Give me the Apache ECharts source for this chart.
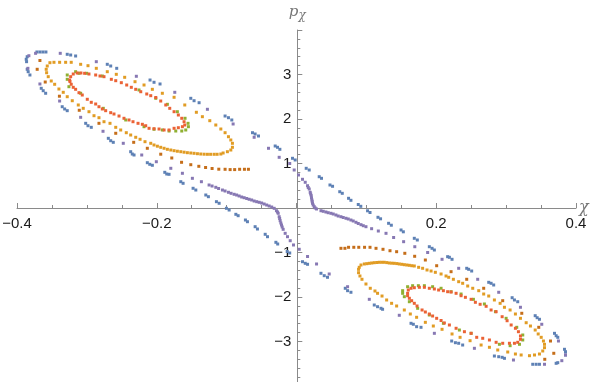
<!DOCTYPE html>
<html>
<head>
<meta charset="utf-8">
<script src="https://cdn.jsdelivr.net/npm/echarts@6/dist/echarts.min.js"></script>
<style>
  html, body { margin: 0; padding: 0; background: #fff; }
  #main { width: 600px; height: 382px; }
</style>
</head>
<body>
<div id="main"></div>
<script>
// Poincaré section points as [chi, p_chi]
var xTicks = [-0.4, -0.2, 0.2, 0.4];
var yTicks = [-3, -2, -1, 1, 2, 3];

var bluePts = [
  [-0.3715,3.506],[-0.3672,3.506],[-0.3629,3.506],[-0.3586,3.506],
  [-0.3281,3.454],[-0.3232,3.438],[-0.3161,3.416],
  [-0.2708,3.229],[-0.2659,3.191],[-0.2573,3.139],
  [-0.2096,2.876],[-0.2039,2.825],[-0.1953,2.787],
  [-0.1513,2.465],[-0.1466,2.411],[-0.1394,2.366],
  [-0.1022,2.067],[-0.0974,2.029],[-0.0926,1.978],
  [-0.0630,1.692],[-0.0592,1.663],[-0.0544,1.618],
  [-0.0305,1.393],[-0.0272,1.364],[-0.0238,1.319],
  [-0.0057,1.117],[-0.0019,1.079],
  [0.0139,0.892],[0.0182,0.854],
  [0.0325,0.703],[0.0358,0.667],
  [0.0479,0.517],[0.0516,0.488],
  [0.0619,0.366],[0.0655,0.330],
  [0.0745,0.218],[0.0779,0.173],
  [0.0884,0.079],[0.0920,0.038],
  [0.1017,-0.063],[0.1052,-0.101],
  [0.1166,-0.209],[0.1203,-0.243],
  [0.1318,-0.344],[0.1357,-0.387],
  [0.1496,-0.494],[0.1529,-0.535],
  [0.1686,-0.681],[0.1729,-0.719],
  [0.1901,-0.870],[0.1940,-0.906],[0.1973,-0.944],
  [0.2163,-1.094],[0.2188,-1.108],[0.2226,-1.153],
  [0.2436,-1.355],[0.2464,-1.378],[0.2507,-1.416],
  [0.2751,-1.670],[0.2785,-1.692],[0.2822,-1.730],
  [0.3086,-2.016],[0.3119,-2.067],[0.3166,-2.106],
  [0.3416,-2.420],[0.3444,-2.465],[0.3477,-2.501],
  [0.3692,-2.816],[0.3716,-2.870],[0.3739,-2.906],
  [0.3835,-3.175],[0.3850,-3.229],[0.3850,-3.303],
  [0.3739,-3.476],[0.3716,-3.490],
  [0.3477,-3.512],[0.3430,-3.512],[0.3381,-3.512],
  [0.2976,-3.378],[0.2943,-3.355],[0.2894,-3.342],[0.2832,-3.326],
  [0.2378,-3.079],[0.2321,-3.040],[0.2274,-3.027],[0.2221,-2.989],
  [0.1782,-2.681],[0.1719,-2.667],[0.1672,-2.613],[0.1639,-2.591],
  [0.1232,-2.276],[0.1209,-2.254],[0.1160,-2.218],[0.1113,-2.180],
  [0.0779,-1.894],[0.0731,-1.858],[0.0698,-1.804],
  [0.0444,-1.557],[0.0397,-1.521],[0.0350,-1.467],
  [0.0158,-1.265],[0.0125,-1.243],[0.0086,-1.207],
  [-0.0133,-0.978],[-0.0097,-1.011],
  [-0.0295,-0.771],[-0.0269,-0.809],
  [-0.0448,-0.591],[-0.0415,-0.645],
  [-0.0592,-0.420],[-0.0559,-0.472],
  [-0.0731,-0.270],[-0.0702,-0.308],
  [-0.0868,-0.142],[-0.0835,-0.173],
  [-0.1003,-0.007],[-0.0964,-0.045],
  [-0.1146,0.142],[-0.1107,0.106],
  [-0.1298,0.292],[-0.1261,0.254],
  [-0.1480,0.443],[-0.1441,0.404],
  [-0.1656,0.591],[-0.1623,0.555],
  [-0.1885,0.802],[-0.1857,0.764],[-0.1824,0.757],
  [-0.2135,1.018],[-0.2100,0.982],[-0.2063,0.960],
  [-0.2373,1.265],[-0.2350,1.213],[-0.2325,1.191],
  [-0.2693,1.566],[-0.2659,1.512],[-0.2622,1.476],
  [-0.3017,1.903],[-0.2984,1.849],[-0.2937,1.813],
  [-0.3353,2.276],[-0.3318,2.225],[-0.3281,2.187],
  [-0.3653,2.690],[-0.3625,2.636],[-0.3590,2.578],
  [-0.3854,3.117],[-0.3840,3.063],[-0.3815,2.989],
  [-0.3868,3.342],[-0.3863,3.288],[-0.3854,3.400]
];

var orangePts = [
  [-0.3529,3.265],[-0.3471,3.274],[-0.3390,3.274],[-0.3304,3.274],[-0.3224,3.274],
  [-0.3089,3.229],[-0.2984,3.198],[-0.2865,3.139],[-0.2708,3.063],[-0.2579,3.004],
  [-0.2459,2.937],[-0.2311,2.838],[-0.2182,2.764],[-0.2063,2.667],[-0.1920,2.578],
  [-0.1752,2.488],[-0.1599,2.315],[-0.1433,2.151],[-0.1347,2.052],[-0.1241,1.962],
  [-0.1155,1.865],[-0.1083,1.775],[-0.1022,1.692],[-0.0974,1.602],[-0.0940,1.528],
  [-0.0917,1.454],[-0.0917,1.364],[-0.0940,1.303],[-0.0989,1.265],[-0.1050,1.236],
  [-0.1083,1.213],[-0.1136,1.207],[-0.1179,1.207],[-0.1229,1.207],[-0.1275,1.207],
  [-0.1322,1.209],[-0.1370,1.213],[-0.1418,1.220],[-0.1466,1.229],[-0.1513,1.236],
  [-0.1562,1.243],[-0.1609,1.254],[-0.1656,1.265],[-0.1705,1.276],[-0.1752,1.288],
  [-0.1799,1.303],[-0.1848,1.319],[-0.1895,1.342],[-0.1943,1.364],[-0.1991,1.389],
  [-0.2039,1.416],[-0.2086,1.454],[-0.2168,1.490],[-0.2239,1.544],[-0.2301,1.589],
  [-0.2373,1.640],[-0.2436,1.692],[-0.2516,1.753],[-0.2587,1.813],[-0.2669,1.903],
  [-0.2755,1.939],[-0.2827,2.029],[-0.2898,2.074],[-0.2970,2.164],[-0.3052,2.240],
  [-0.3123,2.315],[-0.3209,2.411],[-0.3281,2.501],[-0.3338,2.600],[-0.3400,2.674],
  [-0.3461,2.780],[-0.3510,2.854],[-0.3553,2.951],[-0.3576,3.040],[-0.3582,3.117],
  [-0.3567,3.191],
  [0.0898,-1.333],[0.0923,-1.281],[0.0970,-1.258],[0.1006,-1.251],[0.1042,-1.243],
  [0.1077,-1.236],[0.1113,-1.229],[0.1149,-1.225],[0.1185,-1.220],[0.1221,-1.220],
  [0.1256,-1.220],[0.1292,-1.227],[0.1328,-1.236],[0.1364,-1.240],[0.1400,-1.243],
  [0.1436,-1.249],[0.1471,-1.258],[0.1507,-1.265],[0.1543,-1.274],[0.1579,-1.281],
  [0.1615,-1.288],[0.1650,-1.297],[0.1686,-1.303],[0.1748,-1.333],[0.1805,-1.355],
  [0.1868,-1.393],[0.1926,-1.416],[0.1987,-1.445],[0.2069,-1.483],[0.2140,-1.528],
  [0.2178,-1.557],[0.2245,-1.602],[0.2321,-1.656],[0.2378,-1.692],[0.2450,-1.753],
  [0.2522,-1.804],[0.2608,-1.858],[0.2679,-1.933],[0.2751,-1.978],[0.2832,-2.067],
  [0.2914,-2.142],[0.2976,-2.231],[0.3057,-2.292],[0.3133,-2.382],[0.3205,-2.479],
  [0.3287,-2.578],[0.3348,-2.652],[0.3416,-2.742],[0.3459,-2.831],[0.3502,-2.906],
  [0.3534,-2.989],[0.3549,-3.063],[0.3549,-3.139],[0.3524,-3.213],[0.3477,-3.281],
  [0.3406,-3.303],[0.3334,-3.319],[0.3215,-3.303],[0.3133,-3.281],[0.3023,-3.236],
  [0.2880,-3.191],[0.2761,-3.130],[0.2642,-3.079],[0.2484,-2.982],[0.2341,-2.906],
  [0.2226,-2.831],[0.2083,-2.726],[0.1958,-2.652],[0.1844,-2.569],[0.1719,-2.456],
  [0.1629,-2.382],[0.1543,-2.292],[0.1433,-2.202],[0.1361,-2.142],[0.1290,-2.067],
  [0.1224,-1.978],[0.1160,-1.917],[0.1123,-1.865],[0.1056,-1.804],[0.0994,-1.708],
  [0.0937,-1.602],[0.0908,-1.528],[0.0888,-1.454],[0.0888,-1.378]
];

var greenPts = [
  [-0.3281,2.989],[-0.3281,2.892],[-0.3257,2.726],[-0.3161,3.063],[-0.3113,3.027],
  [-0.3003,3.027],[-0.2779,2.966],[-0.2254,2.652],[-0.2014,2.465],[-0.1848,2.330],
  [-0.1705,2.164],[-0.1595,2.016],[-0.1552,1.903],[-0.1547,1.827],[-0.1585,1.753],
  [-0.1642,1.730],[-0.1728,1.730],[-0.1824,1.730],[-0.1920,1.753],[-0.2039,1.769],
  [-0.2182,1.827],[-0.2444,1.978],[-0.2765,2.240],[-0.3089,2.578],
  [0.1519,-1.858],[0.1519,-1.917],[0.1543,-1.993],[0.1590,-1.769],[0.1662,-1.746],
  [0.1744,-1.746],[0.1830,-1.746],[0.1948,-1.769],[0.2069,-1.804],[0.2212,-1.881],
  [0.2355,-1.933],[0.2532,-2.052],[0.2689,-2.157],[0.2847,-2.330],[0.3000,-2.479],
  [0.3152,-2.681],[0.3238,-2.854],[0.3238,-2.966],[0.3191,-3.063],[0.3057,-3.094],
  [0.2904,-3.063],[0.2499,-2.816],[0.2331,-2.742],[0.2102,-2.591],[0.1901,-2.404],
  [0.1734,-2.254],[0.1615,-2.106]
];

var redPts = [
  [-0.3247,2.876],[-0.3232,2.951],[-0.3195,3.011],[-0.3138,3.034],[-0.3085,3.034],
  [-0.3032,3.027],[-0.2970,3.011],[-0.2874,2.989],[-0.2812,2.966],[-0.2755,2.951],
  [-0.2650,2.892],[-0.2587,2.861],[-0.2507,2.816],[-0.2430,2.764],[-0.2364,2.712],
  [-0.2301,2.667],[-0.2229,2.613],[-0.2143,2.562],[-0.2086,2.524],[-0.2014,2.483],
  [-0.1943,2.404],[-0.1871,2.315],[-0.1814,2.240],[-0.1752,2.164],[-0.1691,2.090],
  [-0.1642,2.016],[-0.1609,1.939],[-0.1599,1.865],[-0.1633,1.827],[-0.1691,1.804],
  [-0.1752,1.791],[-0.1824,1.753],[-0.1895,1.753],[-0.1967,1.775],[-0.2039,1.782],
  [-0.2110,1.791],[-0.2158,1.849],[-0.2206,1.881],[-0.2268,1.903],[-0.2340,1.939],
  [-0.2397,1.978],[-0.2469,2.016],[-0.2540,2.067],[-0.2612,2.112],[-0.2659,2.142],
  [-0.2731,2.187],[-0.2779,2.225],[-0.2827,2.276],[-0.2874,2.337],[-0.2937,2.375],
  [-0.2994,2.443],[-0.3066,2.539],[-0.3113,2.591],[-0.3161,2.667],[-0.3195,2.712],
  [-0.3224,2.780],[-0.3242,2.843],
  [0.1590,-1.917],[0.1600,-1.843],[0.1639,-1.804],[0.1686,-1.791],[0.1758,-1.782],
  [0.1830,-1.782],[0.1901,-1.804],[0.1973,-1.820],[0.2034,-1.843],[0.2102,-1.858],
  [0.2163,-1.881],[0.2212,-1.888],[0.2284,-1.917],[0.2355,-1.971],[0.2417,-2.007],
  [0.2499,-2.052],[0.2560,-2.119],[0.2628,-2.164],[0.2714,-2.209],[0.2785,-2.292],
  [0.2857,-2.330],[0.2943,-2.443],[0.3014,-2.533],[0.3072,-2.629],[0.3133,-2.703],
  [0.3176,-2.780],[0.3205,-2.876],[0.3205,-2.951],[0.3166,-3.018],[0.3119,-3.040],
  [0.3047,-3.040],[0.2951,-3.040],[0.2857,-3.018],[0.2761,-2.966],[0.2665,-2.928],
  [0.2579,-2.906],[0.2499,-2.816],[0.2403,-2.780],[0.2284,-2.703],[0.2188,-2.629],
  [0.2116,-2.584],[0.2069,-2.528],[0.2006,-2.479],[0.1948,-2.427],[0.1901,-2.382],
  [0.1844,-2.337],[0.1797,-2.292],[0.1725,-2.202],[0.1686,-2.142],[0.1648,-2.083],
  [0.1615,-2.029],[0.1590,-1.971]
];

var purplePts = [
  [-0.3830,3.422],[-0.3734,3.476],[-0.3381,3.476],[-0.2865,3.288],[-0.2292,2.960],
  [-0.1742,2.600],[-0.1275,2.218],[-0.0907,1.888],[-0.0606,1.589],[-0.0401,1.342],
  [-0.0248,1.139],[-0.0097,1.000],[-0.0033,0.854],[0.0029,0.742],[0.0086,0.645],
  [0.0125,0.578],[0.0158,0.501],[0.0168,0.461],[0.0182,0.427],[0.0196,0.353],
  [0.0203,0.315],[0.0211,0.276],[0.0215,0.225],[0.0221,0.180],[0.0225,0.142],
  [0.0229,0.106],[0.0239,0.067],[0.0254,0.029],[0.0268,0.000],[0.0287,-0.022],
  [0.0350,-0.061],[0.0383,-0.074],[0.0421,-0.090],[0.0454,-0.106],[0.0493,-0.119],
  [0.0526,-0.135],[0.0564,-0.157],[0.0597,-0.180],[0.0636,-0.196],[0.0669,-0.213],
  [0.0708,-0.231],[0.0741,-0.247],[0.0779,-0.270],[0.0812,-0.292],[0.0851,-0.321],
  [0.0884,-0.348],[0.0923,-0.375],[0.0956,-0.398],[0.0994,-0.420],[0.1075,-0.465],
  [0.1171,-0.517],[0.1281,-0.569],[0.1390,-0.663],[0.1533,-0.757],[0.1693,-0.870],
  [0.1877,-1.000],[0.2083,-1.153],[0.2321,-1.355],[0.2593,-1.602],[0.2894,-1.894],
  [0.3205,-2.231],[0.3510,-2.613],[0.3749,-2.989],[0.3850,-3.303],[0.3797,-3.431],
  [0.3549,-3.512],[0.3105,-3.416],[0.2546,-3.153],[0.1973,-2.816],[0.1471,-2.411],
  [0.1042,-2.052],[0.0731,-1.769],[0.0468,-1.483],[0.0287,-1.258],[0.0158,-1.090],
  [0.0039,-0.928],[-0.0043,-0.831],[-0.0090,-0.735],[-0.0129,-0.645],[-0.0162,-0.569],
  [-0.0191,-0.479],[-0.0205,-0.427],[-0.0215,-0.382],[-0.0224,-0.337],[-0.0234,-0.285],
  [-0.0241,-0.236],[-0.0248,-0.196],[-0.0262,-0.119],[-0.0272,-0.090],[-0.0287,-0.061],
  [-0.0319,-0.007],[-0.0355,0.022],[-0.0391,0.045],[-0.0427,0.067],[-0.0463,0.090],
  [-0.0499,0.112],[-0.0534,0.128],[-0.0570,0.142],[-0.0606,0.157],[-0.0642,0.180],
  [-0.0678,0.196],[-0.0713,0.213],[-0.0749,0.231],[-0.0785,0.247],[-0.0821,0.270],
  [-0.0857,0.292],[-0.0893,0.308],[-0.0936,0.330],[-0.0974,0.353],[-0.1022,0.382],
  [-0.1060,0.404],[-0.1115,0.438],[-0.1155,0.465],[-0.1208,0.494],[-0.1251,0.517],
  [-0.1361,0.591],[-0.1490,0.667],[-0.1633,0.780],[-0.1799,0.892],[-0.2006,1.040],
  [-0.2215,1.191],[-0.2479,1.454],[-0.2769,1.724],[-0.3089,2.038],[-0.3390,2.404],
  [-0.3672,2.787],[-0.3844,3.139]
];

var darkOrangePts = [
  [-0.3672,3.315],[-0.3711,3.117],[-0.3596,2.831],[-0.3393,2.512],[-0.3109,2.196],
  [-0.2827,1.903],[-0.2587,1.679],[-0.2330,1.476],[-0.2135,1.342],[-0.1943,1.209],
  [-0.1785,1.124],[-0.1645,1.027],[-0.1513,0.973],[-0.1398,0.937],[-0.1301,0.910],
  [-0.1208,0.888],[-0.1112,0.872],[-0.1022,0.870],[-0.0950,0.863],[-0.0885,0.863],
  [-0.0814,0.870],[-0.0745,0.870],[-0.0688,0.870],
  [0.0636,-0.906],[0.0693,-0.906],[0.0745,-0.883],[0.0820,-0.883],[0.0891,-0.883],
  [0.0974,-0.883],[0.1052,-0.883],[0.1138,-0.906],[0.1238,-0.928],[0.1338,-0.960],
  [0.1433,-0.982],[0.1550,-1.018],[0.1691,-1.085],[0.1844,-1.169],[0.2006,-1.297],
  [0.2212,-1.431],[0.2436,-1.602],[0.2679,-1.804],[0.2951,-2.083],[0.3224,-2.366],
  [0.3467,-2.681],[0.3635,-2.989],[0.3682,-3.265],[0.3553,-3.400]
];

var seriesColors = ['#5e81b5', '#e19c24', '#8fb032', '#eb6235', '#8778b3', '#c56e1a'];
var seriesData = [bluePts, orangePts, greenPts, redPts, purplePts, darkOrangePts];

var dom = document.getElementById('main');
var myChart = echarts.init(dom, null, { renderer: 'canvas' });

function fmt(v) {
  if (Math.abs(v) < 1e-9) return '';
  var s = String(Math.round(Math.abs(v) * 10) / 10);
  return v < 0 ? '\u2212' + s : s;
}

var series = [];
for (var i = 0; i < seriesData.length; i++) {
  series.push({
    type: 'scatter',
    data: seriesData[i],
    symbol: 'rect',
    symbolSize: 3,
    itemStyle: { color: seriesColors[i], opacity: 1 },
    emphasis: { disabled: true },
    silent: true
  });
}

// axes cross at the origin: grid is 559 x 356, zero sits 178px above the bottom
// and 280px right of the left edge
var axisGray = '#8a8a8a';
var option = {
  animation: false,
  grid: { left: 17, top: 30, width: 559, height: 356, containLabel: false, outerBoundsMode: 'none' },
  xAxis: {
    type: 'value',
    min: -0.4,
    max: 0.4,
    interval: 0.2,
    position: 'bottom',
    offset: -178,
    name: 'χ',
    nameLocation: 'end',
    nameGap: 3,
    nameTextStyle: { color: '#777', fontSize: 16, fontStyle: 'italic', fontFamily: 'DejaVu Serif' },
    axisLine: { onZero: false, lineStyle: { color: axisGray, width: 1 } },
    axisTick: { inside: true, length: 5, lineStyle: { color: axisGray } },
    minorTick: { show: true, splitNumber: 4, length: 3, lineStyle: { color: axisGray } },
    splitLine: { show: false },
    axisLabel: {
      margin: 8,
      fontSize: 15,
      color: '#1a1a1a',
      fontFamily: 'Liberation Sans',
      formatter: function (v) {
        return xTicks.indexOf(Math.round(v * 10) / 10) >= 0 ? fmt(v) : '';
      }
    }
  },
  yAxis: {
    type: 'value',
    min: -4,
    max: 4,
    interval: 1,
    position: 'left',
    offset: -280.3,
    name: '{p|p}{s|χ}',
    nameLocation: 'end',
    nameGap: 8,
    nameTextStyle: {
      rich: {
        p: { color: '#777', fontSize: 15, fontStyle: 'italic', fontFamily: 'DejaVu Serif' },
        s: { color: '#777', fontSize: 12, fontStyle: 'italic', fontFamily: 'DejaVu Serif', padding: [8, 0, 0, 0] }
      }
    },
    axisLine: { onZero: false, lineStyle: { color: axisGray, width: 1 } },
    axisTick: { inside: true, length: 5, lineStyle: { color: axisGray } },
    minorTick: { show: true, splitNumber: 5, length: 3, lineStyle: { color: axisGray } },
    splitLine: { show: false },
    axisLabel: {
      margin: 6,
      fontSize: 15,
      color: '#1a1a1a',
      fontFamily: 'Liberation Sans',
      formatter: function (v) {
        return yTicks.indexOf(Math.round(v)) >= 0 ? fmt(v) : '';
      }
    }
  },
  series: series
};

myChart.setOption(option);
window.addEventListener('resize', myChart.resize);
</script>
</body>
</html>
